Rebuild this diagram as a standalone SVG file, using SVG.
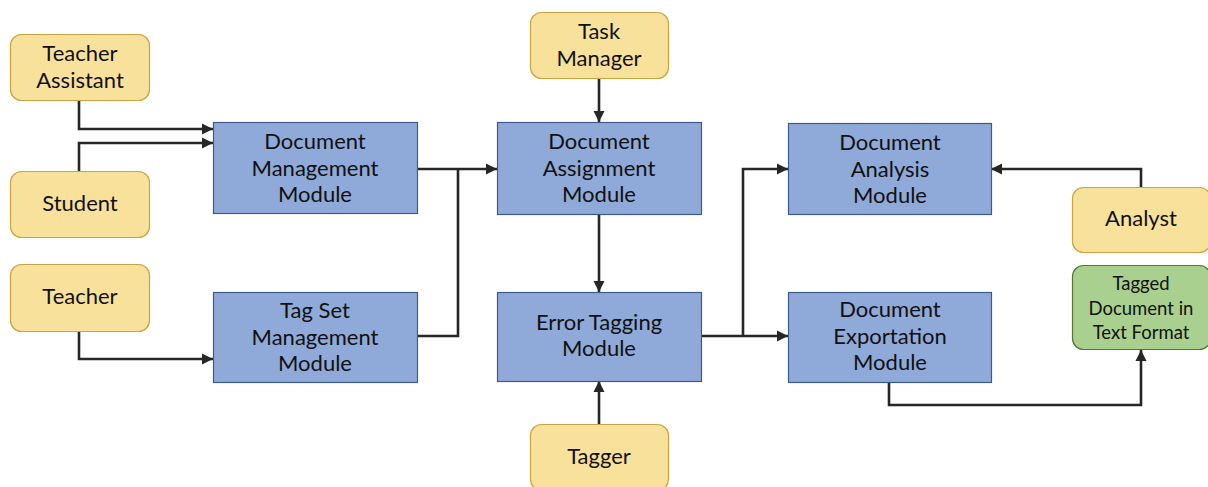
<svg xmlns="http://www.w3.org/2000/svg" width="1208" height="487" viewBox="0 0 1208 487">
  <style>
    text { font-family: Lato, "Open Sans", "Liberation Sans", sans-serif; font-size: 22px; fill: #111; text-anchor: middle; }
    .actor { fill: #F8E19B; stroke: #C9A440; stroke-width: 1.2; }
    .module { fill: #8FA9D8; stroke: #3F5A8C; stroke-width: 1.2; }
    .output { fill: #A9D08E; stroke: #4E7A32; stroke-width: 1.2; }
    .small { font-size: 18.5px; }
    .link { fill: none; stroke: #262626; stroke-width: 2.6; }
  </style>
  <defs>
    <marker id="arrow" viewBox="0 0 10 10" refX="10" refY="5" markerWidth="4.4" markerHeight="4.4" orient="auto" markerUnits="strokeWidth">
      <path d="M0,0 L10,5 L0,10 z" fill="#262626"/>
    </marker>
  </defs>

  <g id="connectors">
    <path class="link" d="M79,100 V129 H213" marker-end="url(#arrow)"/>
    <path class="link" d="M79,171 V143 H213" marker-end="url(#arrow)"/>
    <path class="link" d="M79,332 V359 H213" marker-end="url(#arrow)"/>
    <path class="link" d="M417,169 H497" marker-end="url(#arrow)"/>
    <path class="link" d="M417,336 H458 V169"/>
    <path class="link" d="M599,78 V122" marker-end="url(#arrow)"/>
    <path class="link" d="M599,214 V292" marker-end="url(#arrow)"/>
    <path class="link" d="M599,424 V381" marker-end="url(#arrow)"/>
    <path class="link" d="M701,336 H788" marker-end="url(#arrow)"/>
    <path class="link" d="M743,336 V169 H788" marker-end="url(#arrow)"/>
    <path class="link" d="M1141,187 V169 H991" marker-end="url(#arrow)"/>
    <path class="link" d="M889,382 V405 H1141 V350" marker-end="url(#arrow)"/>
  </g>

  <g id="teacher-assistant">
    <rect class="actor" x="10.5" y="34.5" width="139" height="66" rx="11"/>
    <text x="80" y="61">Teacher</text>
    <text x="80" y="88">Assistant</text>
  </g>
  <g id="student">
    <rect class="actor" x="10.5" y="171.5" width="139" height="66" rx="11"/>
    <text x="80" y="211">Student</text>
  </g>
  <g id="teacher">
    <rect class="actor" x="10.5" y="264.5" width="139" height="67" rx="11"/>
    <text x="80" y="304">Teacher</text>
  </g>
  <g id="task-manager">
    <rect class="actor" x="530.5" y="12.5" width="138" height="66" rx="11"/>
    <text x="599" y="39">Task</text>
    <text x="599" y="66">Manager</text>
  </g>
  <g id="tagger">
    <rect class="actor" x="530.5" y="424.5" width="138" height="66" rx="11"/>
    <text x="599" y="464">Tagger</text>
  </g>
  <g id="analyst">
    <rect class="actor" x="1072.5" y="187.5" width="138" height="65" rx="11"/>
    <text x="1141" y="226">Analyst</text>
  </g>
  <g id="tagged-document">
    <rect class="output" x="1072.5" y="265.5" width="138" height="84" rx="11"/>
    <text class="small" x="1141" y="290">Tagged</text>
    <text class="small" x="1141" y="315">Document in</text>
    <text class="small" x="1141" y="339">Text Format</text>
  </g>

  <g id="document-management">
    <rect class="module" x="213.5" y="122.5" width="204" height="91"/>
    <text x="315" y="149">Document</text>
    <text x="315" y="176">Management</text>
    <text x="315" y="202">Module</text>
  </g>
  <g id="tag-set-management">
    <rect class="module" x="213.5" y="292.5" width="204" height="90"/>
    <text x="315" y="318">Tag Set</text>
    <text x="315" y="345">Management</text>
    <text x="315" y="371">Module</text>
  </g>
  <g id="document-assignment">
    <rect class="module" x="497.5" y="122.5" width="204" height="92"/>
    <text x="599" y="149">Document</text>
    <text x="599" y="176">Assignment</text>
    <text x="599" y="202">Module</text>
  </g>
  <g id="error-tagging">
    <rect class="module" x="497.5" y="292.5" width="204" height="89"/>
    <text x="599" y="330">Error Tagging</text>
    <text x="599" y="356">Module</text>
  </g>
  <g id="document-analysis">
    <rect class="module" x="788.5" y="123.5" width="203" height="91"/>
    <text x="890" y="150">Document</text>
    <text x="890" y="177">Analysis</text>
    <text x="890" y="203">Module</text>
  </g>
  <g id="document-exportation">
    <rect class="module" x="788.5" y="292.5" width="203" height="90"/>
    <text x="890" y="317">Document</text>
    <text x="890" y="344">Exportation</text>
    <text x="890" y="370">Module</text>
  </g>
</svg>
